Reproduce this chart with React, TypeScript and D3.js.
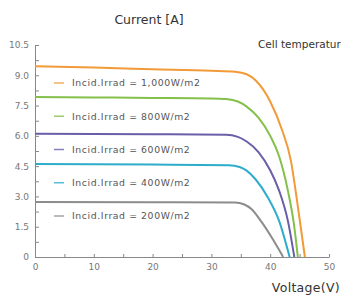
import * as d3 from "d3";
import { useEffect, useRef } from "react";

// I-V curves, one per irradiance level
const seriesNames = ["1,000W/m2", "800W/m2", "600W/m2", "400W/m2", "200W/m2"];
const seriesColors = ["#f29a38", "#84c04a", "#6b5ea8", "#2eaccb", "#8c8c8c"];

const v1000 = [0, 10, 20, 30, 34, 36, 37.5, 40, 42, 43.5, 44.8, 45.9];
const i1000 = [9.45, 9.38, 9.3, 9.22, 9.17, 9.05, 8.75, 7.7, 6.3, 4.8, 2.3, 0];
const v800 = [0, 10, 20, 30, 32.5, 34.5, 36, 38, 40, 41.5, 43, 44, 44.7];
const i800 = [7.92, 7.9, 7.88, 7.85, 7.82, 7.7, 7.45, 6.9, 6.0, 5.0, 3.3, 1.7, 0];
const v600 = [0, 20, 32.5, 34.5, 36, 38, 40, 41.5, 43, 44.1];
const i600 = [6.1, 6.08, 6.05, 5.95, 5.72, 5.2, 4.3, 3.3, 1.8, 0];
const v400 = [0, 20, 33, 34.8, 36, 37.5, 39.5, 41.5, 43.3];
const i400 = [4.6, 4.58, 4.55, 4.46, 4.28, 3.85, 3.0, 1.8, 0];
const v200 = [0, 20, 34, 35.6, 36.8, 38.5, 40.5, 42.2];
const i200 = [2.72, 2.71, 2.7, 2.6, 2.38, 1.75, 0.85, 0];

const voltages = [v1000, v800, v600, v400, v200];
const currents = [i1000, i800, i600, i400, i200];

const yMajor = [0, 1.5, 3.0, 4.5, 6.0, 7.5, 9.0, 10.5];
const xMajor = [0, 10, 20, 30, 40, 50];

const W = 341;
const H = 295;
const font = "'DejaVu Sans', sans-serif";

const App = () => {
  const ref = useRef<SVGSVGElement>(null);

  useEffect(() => {
    const svg = d3.select(ref.current);
    svg.selectAll("*").remove();

    const x = d3.scaleLinear().domain([0, 50]).range([35, 329]);
    const y = d3.scaleLinear().domain([0, 10.5]).range([257, 45]);

    // y axis: labels on the left, short ticks pointing in
    const yl = svg.append("g")
      .attr("transform", `translate(${x(0)},0)`)
      .call(d3.axisLeft(y).tickValues(yMajor).tickSize(0).tickPadding(6)
        .tickFormat((d: any) => (d === 0 ? "0" : d3.format(".1f")(d))));
    yl.selectAll("text").attr("font-size", 9).attr("font-family", font).attr("fill", "#777");
    yl.select(".domain").attr("stroke", "#888");

    const yt = svg.append("g")
      .attr("transform", `translate(${x(0)},0)`)
      .call(d3.axisRight(y).tickValues(d3.range(0, 10.51, 0.75)).tickSize(4).tickFormat(() => ""));
    yt.select(".domain").remove();
    yt.selectAll("line").attr("stroke", "#888");

    // x axis: labels below, ticks every 5V pointing up
    const xl = svg.append("g")
      .attr("transform", `translate(0,${y(0)})`)
      .call(d3.axisBottom(x).tickValues(xMajor).tickSize(0).tickPadding(7));
    xl.selectAll("text").attr("font-size", 9).attr("font-family", font).attr("fill", "#777");
    xl.select(".domain").attr("stroke", "#888");

    const xt = svg.append("g")
      .attr("transform", `translate(0,${y(0)})`)
      .call(d3.axisTop(x).tickValues(d3.range(0, 51, 5)).tickSize(3).tickFormat(() => ""));
    xt.select(".domain").remove();
    xt.selectAll("line").attr("stroke", "#888");

    const line = d3.line<[number, number]>()
      .x(d => x(d[0]))
      .y(d => y(d[1]))
      .curve(d3.curveMonotoneX);

    voltages.forEach((vs, k) => {
      const pts = vs.map((v, j) => [v, currents[k][j]] as [number, number]);
      svg.append("path")
        .attr("d", line(pts))
        .attr("fill", "none")
        .attr("stroke", seriesColors[k])
        .attr("stroke-width", 2);
    });

    // legend under each curve
    const legY = d3.scaleLinear().domain([0, 4]).range([83, 216]);
    seriesNames.forEach((name, k) => {
      const g = svg.append("g").attr("transform", `translate(0,${legY(k)})`);
      g.append("line")
        .attr("x1", 54).attr("x2", 64)
        .attr("stroke", seriesColors[k]).attr("stroke-width", 1.5).attr("opacity", 0.8);
      g.append("text")
        .attr("x", 72).attr("dy", "0.35em")
        .attr("font-size", 9.3).attr("letter-spacing", 0.6)
        .attr("font-family", font).attr("fill", "#555")
        .text(`Incid.Irrad = ${name}`);
    });

    svg.append("text")
      .attr("x", 149).attr("y", 24).attr("text-anchor", "middle")
      .attr("font-size", 12.5).attr("font-family", font).attr("fill", "#333")
      .text("Current [A]");

    svg.append("text")
      .attr("x", 258).attr("y", 48)
      .attr("font-size", 10.5).attr("font-family", font).attr("fill", "#333")
      .text("Cell temperature");

    svg.append("text")
      .attr("x", 340).attr("y", 292).attr("text-anchor", "end")
      .attr("font-size", 12.5).attr("letter-spacing", 0.3)
      .attr("font-family", font).attr("fill", "#333")
      .text("Voltage(V)");
  }, []);

  return (
    <svg ref={ref} width={W} height={H}
      style={{ position: "absolute", left: 0, top: 0, background: "#fff" }} />
  );
};

export default App;
